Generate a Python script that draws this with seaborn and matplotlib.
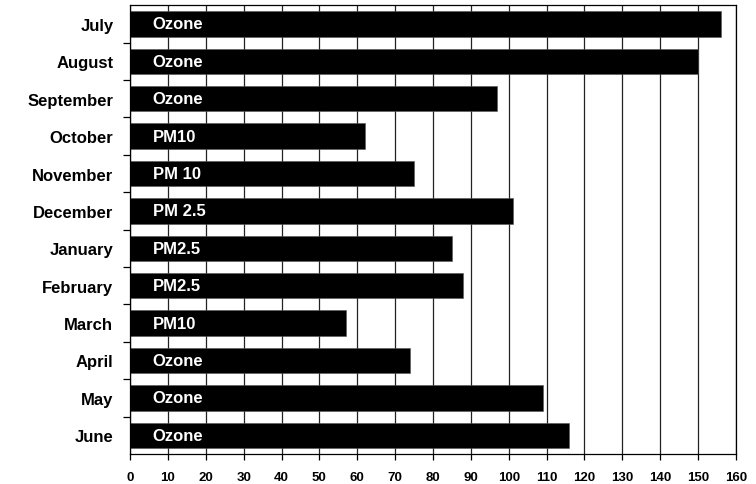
import pandas as pd
import matplotlib.pyplot as plt
import matplotlib.ticker as mticker
import seaborn as sns

# monthly peak values
months = ["July", "August", "September", "October", "November", "December",
          "January", "February", "March", "April", "May", "June"]
values = [156, 150, 97, 62, 75, 101, 85, 88, 57, 74, 109, 116]
pollutants = ["Ozone", "Ozone", "Ozone", "PM10", "PM 10", "PM 2.5",
              "PM2.5", "PM2.5", "PM10", "Ozone", "Ozone", "Ozone"]
x_ticks = list(range(0, 161, 10))


def main():
    df = pd.DataFrame({"Month": months, "Value": values, "Pollutant": pollutants})

    sns.set_theme(style="white")
    plt.rcParams["font.family"] = ["Liberation Sans", "DejaVu Sans"]

    fig, ax = plt.subplots(figsize=(7.56, 4.85), dpi=100)
    fig.subplots_adjust(left=0.172, right=0.9735, top=0.987, bottom=0.062)

    # vertical grid lines behind the bars
    ax.set_axisbelow(True)
    ax.xaxis.grid(True, color="#222222", linewidth=0.9)

    sns.barplot(data=df, x="Value", y="Month", orient="h", color="black",
                width=0.68, saturation=1, ax=ax, edgecolor="#555555", linewidth=0.4)

    # pollutant names inside each bar
    for i, name in enumerate(pollutants):
        ax.text(6, i, name, color="white", fontsize=12, fontweight="bold",
                va="center", ha="left")

    ax.set_xlim(0, 160)
    ax.set_ylim(11.5, -0.5)
    ax.set_xticks(x_ticks)
    ax.set_xticklabels([str(t) for t in x_ticks], fontsize=9.5, fontweight="bold")
    ax.set_yticks(range(len(months)))
    ax.set_yticklabels(months, fontsize=12, fontweight="bold")
    ax.set_xlabel("")
    ax.set_ylabel("")

    # ticks between categories on the y axis, outward ticks on x
    ax.yaxis.set_minor_locator(mticker.FixedLocator([i + 0.5 for i in range(11)]))
    ax.tick_params(axis="y", which="major", length=0, pad=12, colors="black")
    ax.tick_params(axis="y", which="minor", left=True, length=5, width=0.9,
                   direction="out", color="black")
    ax.tick_params(axis="x", which="major", bottom=True, length=4, width=0.9,
                   direction="out", color="black", pad=8, labelcolor="black")

    for spine in ax.spines.values():
        spine.set_visible(True)
        spine.set_color("black")
        spine.set_linewidth(0.9)

    plt.savefig("out.png", dpi=100)
    plt.close()


if __name__ == "__main__":
    main()
